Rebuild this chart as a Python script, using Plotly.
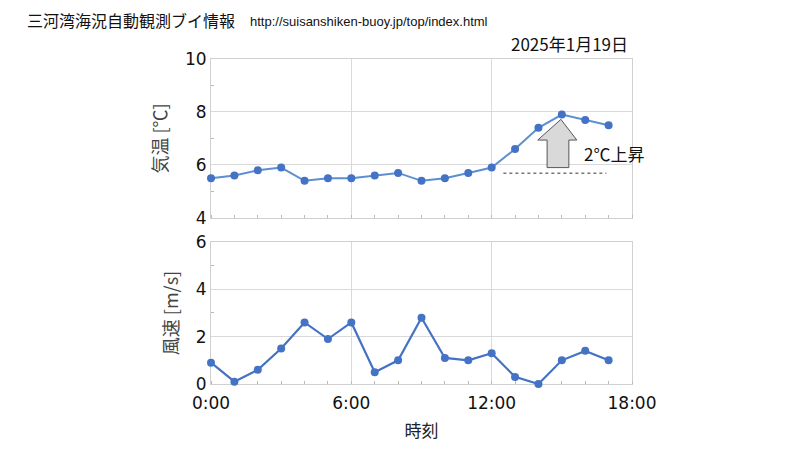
import plotly.graph_objects as go
from plotly.subplots import make_subplots

hours = list(range(18))
temp = [5.5, 5.6, 5.8, 5.9, 5.4, 5.5, 5.5, 5.6, 5.7, 5.4, 5.5, 5.7, 5.9, 6.6, 7.4, 7.9, 7.7, 7.5]
wind = [0.9, 0.1, 0.6, 1.5, 2.6, 1.9, 2.6, 0.5, 1.0, 2.8, 1.1, 1.0, 1.3, 0.3, 0.0, 1.0, 1.4, 1.0]
xtick_vals = [0, 6, 12, 18]
xtick_text = ["0:00", "6:00", "12:00", "18:00"]

title = "三河湾海況自動観測ブイ情報"
url = "http://suisanshiken-buoy.jp/top/index.html"
date_text = "2025年1月19日"
note = "2℃上昇"

JP = "Noto Sans CJK JP"
NUM = "DejaVu Sans"

fig = make_subplots(rows=2, cols=1, shared_xaxes=False)

fig.add_trace(go.Scatter(x=hours, y=temp, mode="lines+markers", cliponaxis=False,
                         line=dict(color="#5B8FD2", width=2),
                         marker=dict(color="#4472C4", size=8),
                         showlegend=False), row=1, col=1)
fig.add_trace(go.Scatter(x=hours, y=wind, mode="lines+markers", cliponaxis=False,
                         line=dict(color="#4472C4", width=2.2),
                         marker=dict(color="#4472C4", size=8),
                         showlegend=False), row=2, col=1)

axis_common = dict(showline=True, linecolor="#D0D0D0", linewidth=1, mirror=True,
                   gridcolor="#D9D9D9", gridwidth=1, zeroline=False, layer="below traces",
                   ticks="", tickfont=dict(family=NUM, size=17, color="#111"))

fig.update_xaxes(range=[0, 18], tickvals=xtick_vals, ticktext=xtick_text,
                 minor=dict(dtick=1, ticks="inside", ticklen=3, tickcolor="#BBBBBB", showgrid=False),
                 ticklabelstandoff=4,
                 **axis_common)
fig.update_xaxes(showticklabels=False, row=1, col=1)
fig.update_xaxes(title=dict(text="時刻", font=dict(family=JP, size=17, color="#222"), standoff=12),
                 row=2, col=1)

fig.update_yaxes(range=[4, 10], dtick=2,
                 minor=dict(dtick=1, ticks="inside", ticklen=3, tickcolor="#BBBBBB", showgrid=False),
                 title=dict(text="気温 [℃]", font=dict(family=JP, size=18, color="#444"), standoff=12),
                 **axis_common, row=1, col=1)
fig.update_yaxes(range=[0, 6], dtick=2,
                 minor=dict(dtick=1, ticks="inside", ticklen=3, tickcolor="#BBBBBB", showgrid=False),
                 title=dict(text="風速 [m/s]", font=dict(family=JP, size=18, color="#444"), standoff=12),
                 **axis_common, row=2, col=1)

fig.update_layout(
    width=800, height=450,
    margin=dict(l=211, r=168, t=59, b=66),
    paper_bgcolor="white", plot_bgcolor="white",
    xaxis=dict(domain=[0, 1]), xaxis2=dict(domain=[0, 1]),
    yaxis=dict(domain=[0.511, 1.0]), yaxis2=dict(domain=[0.0, 0.437]),
)

# Block arrow (annotation decoration) in data coords of top plot
ax_l, ax_r = 14.37, 15.3
hd_l, hd_r = 13.97, 15.64
tip_x = 14.96
y_bot, y_head, y_tip = 5.9, 6.94, 7.72
path = (f"M {ax_l},{y_bot} L {ax_r},{y_bot} L {ax_r},{y_head} L {hd_r},{y_head} "
        f"L {tip_x},{y_tip} L {hd_l},{y_head} L {ax_l},{y_head} Z")
fig.add_shape(type="path", path=path, xref="x", yref="y",
              fillcolor="#D9D9D9", line=dict(color="#555555", width=1))
fig.add_shape(type="line", x0=12.5, x1=16.9, y0=5.69, y1=5.69, xref="x", yref="y",
              line=dict(color="#333333", width=1, dash="dot"))
fig.add_annotation(x=15.85, y=6.45, xref="x", yref="y", text=note, showarrow=False,
                   xanchor="left", font=dict(family=JP, size=17, color="#111"))

fig.add_annotation(x=25, y=20, xref="paper", yref="paper", text=title, showarrow=False,
                   xanchor="left", yanchor="middle", font=dict(family=JP, size=16, color="#111"))
fig.add_annotation(x=248, y=22, xref="paper", yref="paper", text=url, showarrow=False,
                   xanchor="left", yanchor="middle", font=dict(family="Liberation Sans", size=13, color="#111"))
fig.add_annotation(x=630, y=44, xref="paper", yref="paper", text=date_text, showarrow=False,
                   xanchor="right", yanchor="middle", font=dict(family=JP, size=17, color="#111"))

# convert pixel positions of header annotations to paper coords
pw = 800 - 211 - 168
ph = 450 - 59 - 66
for a in fig.layout.annotations[1:]:
    px, py = a.x, a.y
    a.x = (px - 211) / pw
    a.y = (450 - 66 - py) / ph

fig.write_html("out.html")
